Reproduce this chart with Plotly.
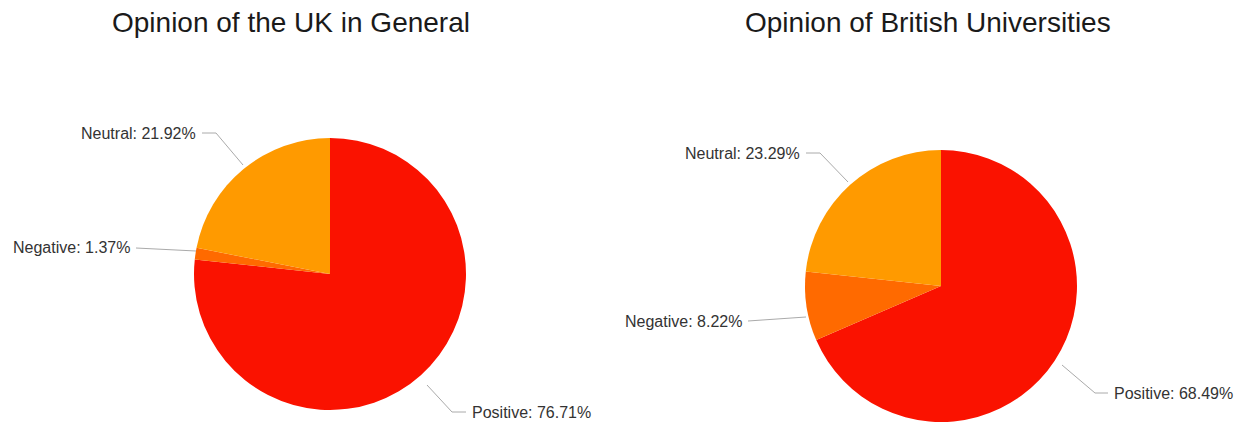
import plotly.graph_objects as go

# Survey results (percent of respondents)
categories = ["Positive", "Negative", "Neutral"]
uk_general = [76.71, 1.37, 21.92]
british_universities = [68.49, 8.22, 23.29]
slice_colors = ["#FA1200", "#FF6A00", "#FF9A00"]
titles = ["Opinion of the UK in General", "Opinion of British Universities"]

W, H = 1244, 429


def px(x):
    return x / W


def py(y):
    return (H - y) / H


def pie_domain(cx, cy, r):
    return dict(x=[px(cx - r), px(cx + r)], y=[py(cy + r), py(cy - r)])


fig = go.Figure()
fig.add_trace(go.Pie(
    labels=categories, values=uk_general, sort=False, direction="clockwise",
    rotation=0, textinfo="none", hoverinfo="label+percent",
    marker=dict(colors=slice_colors, line=dict(width=0)),
    domain=pie_domain(330, 274, 136), showlegend=False,
))
fig.add_trace(go.Pie(
    labels=categories, values=british_universities, sort=False, direction="clockwise",
    rotation=0, textinfo="none", hoverinfo="label+percent",
    marker=dict(colors=slice_colors, line=dict(width=0)),
    domain=pie_domain(941, 286, 136), showlegend=False,
))

label_font = dict(family="Liberation Sans, Arial, sans-serif", size=16, color="#333333")
line_style = dict(color="#AAAAAA", width=1)

annotations = []
shapes = []

# Chart titles
for title, cx in zip(titles, [291, 928]):
    annotations.append(dict(
        text=title, x=px(cx), y=py(23), xref="paper", yref="paper",
        xanchor="center", yanchor="middle", showarrow=False,
        font=dict(family="Liberation Sans, Arial, sans-serif", size=28, color="#1a1a1a"),
    ))

# Slice labels: (text anchor point, anchor side, leader path points)
label_layout = [
    # left pie
    {"Positive": ((470, 412), "left", [(466, 412), (452, 412), (427, 385)]),
     "Negative": ((132, 248), "right", [(136, 248), (196, 251)]),
     "Neutral": ((198, 133), "right", [(202, 133), (216, 133), (243, 165)])},
    # right pie
    {"Positive": ((1112, 393), "left", [(1108, 393), (1095, 393), (1062, 365)]),
     "Negative": ((744, 321), "right", [(748, 321), (806, 317)]),
     "Neutral": ((802, 153), "right", [(806, 153), (820, 153), (848, 182)])},
]

for values, layout_map in zip([uk_general, british_universities], label_layout):
    for cat, val in zip(categories, values):
        (tx, ty), side, pts = layout_map[cat]
        annotations.append(dict(
            text=f"{cat}: {val:.2f}%", x=px(tx), y=py(ty), xref="paper", yref="paper",
            xanchor=side, yanchor="middle", showarrow=False, font=label_font,
        ))
        path = "M " + " L ".join(f"{px(x)} {py(y)}" for x, y in pts)
        shapes.append(dict(type="path", path=path, xref="paper", yref="paper",
                           line=line_style))

fig.update_layout(
    width=W, height=H,
    margin=dict(l=0, r=0, t=0, b=0),
    paper_bgcolor="white", plot_bgcolor="white",
    annotations=annotations, shapes=shapes,
)

fig.write_html("out.html", config={"displayModeBar": False})
